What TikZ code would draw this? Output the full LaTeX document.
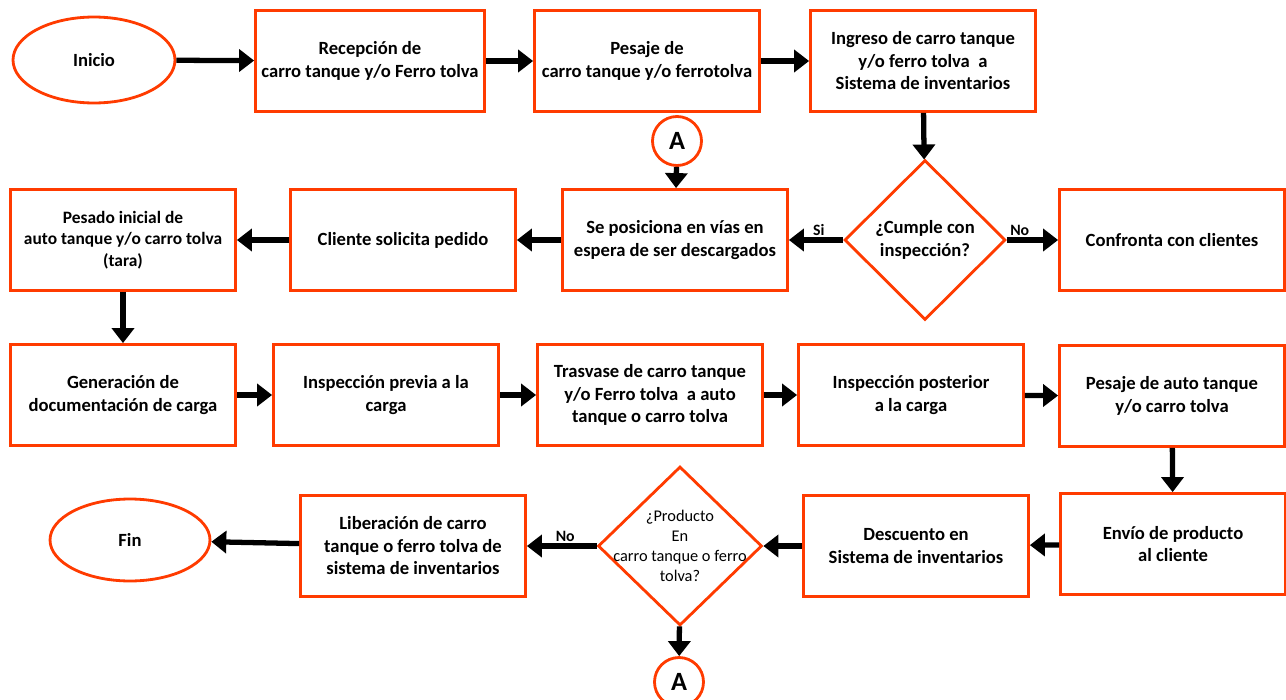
\documentclass[tikz,border=0pt]{standalone}
\usepackage{fontspec}
\setmainfont{Carlito}
\usetikzlibrary{positioning, arrows.meta, shapes.geometric}
\definecolor{naranja}{RGB}{255,59,0}
\tikzset{
    proc/.style={draw=naranja, line width=1.6pt, fill=white, minimum width=4.5cm, minimum height=2.02cm, align=center, font=\bfseries\fontsize{10.6}{12.8}\selectfont},
    term/.style={draw=naranja, line width=1.6pt, ellipse, minimum width=3.24cm, minimum height=1.72cm, font=\bfseries\fontsize{10.6}{12.8}\selectfont},
    decis/.style={draw=naranja, line width=1.6pt, diamond, minimum width=3.22cm, minimum height=3.2cm, inner sep=0pt},
    conect/.style={draw=naranja, line width=1.6pt, circle, minimum size=0.98cm, inner sep=0pt, font=\bfseries\fontsize{15}{17}\selectfont},
    flecha/.style={-{Triangle[length=3mm, width=4.4mm]}, line width=3pt},
    etiq/.style={font=\bfseries\fontsize{9}{11}\selectfont, inner sep=1pt},
}
\begin{document}
\begin{tikzpicture}[x=0.02cm, y=-0.02cm]
        \useasboundingbox (0,0) rectangle (1286,700);
        % Fila 1
        \node[term] (ini) at (94,60)  {Inicio};
        \node[proc] (rec) at (370,61) {Recepción de\\ carro tanque y/o Ferro tolva};
        \node[proc] (pes) at (647,61) {Pesaje de\\ carro tanque y/o ferrotolva};
        \node[proc] (ing) at (923,61) {Ingreso de carro tanque\\ y/o ferro tolva\ \ a\\ Sistema de inventarios};
        \node[conect] (A1) at (677,141) {A};
        % Fila 2
        \node[decis, label={[align=center, font=\bfseries\fontsize{10.6}{12.8}\selectfont]center:{¿Cumple con\\ inspección?}}] (cum) at (925,240) {};
        \node[proc] (con) at (1172,240) {Confronta con clientes};
        \node[proc] (pos) at (675,240) {Se posiciona en vías en\\ espera de ser descargados};
        \node[proc] (cli) at (403,240) {Cliente solicita pedido};
        \node[proc, font=\bfseries\fontsize{9.9}{12.2}\selectfont] (tar) at (123,240) {Pesado inicial de\\ auto tanque y/o carro tolva\\ (tara)};
        % Fila 3
        \node[proc] (gen) at (123,395)  {Generación de\\ documentación de carga};
        \node[proc] (ipr) at (386,395)  {Inspección previa a la\\ carga};
        \node[proc] (tra) at (650,395)  {Trasvase de carro tanque\\ y/o Ferro tolva\ \ a auto\\ tanque o carro tolva};
        \node[proc] (ipo) at (911,395)  {Inspección posterior\\ a la carga};
        \node[proc] (pau) at (1172,396) {Pesaje de auto tanque\\ y/o carro tolva};
        % Fila 4
        \node[proc] (env) at (1173,544) {Envío de producto\\ al cliente};
        \node[proc] (des) at (916,546)  {Descuento en\\ Sistema de inventarios};
        \node[decis, minimum width=3.28cm, minimum height=3.18cm, label={[align=center, font=\fontsize{9.3}{11.4}\selectfont]center:{¿Producto\\ En\\ carro tanque o ferro\\ tolva?}}] (prd) at (680,546) {};
        \node[proc] (lib) at (413,546)  {Liberación de carro\\ tanque o ferro tolva de\\ sistema de inventarios};
        \node[term, minimum width=3.2cm, minimum height=1.64cm] (fin) at (130,540) {Fin};
        \node[conect] (A2) at (679,682) {A};
        % Conexiones
        \draw[flecha] (ini) -- (rec);
        \draw[flecha] (rec) -- (pes);
        \draw[flecha] (pes) -- (ing);
        \draw[flecha] (ing) -- (cum);
        \draw[flecha] (cum) -- (pos) node[etiq, pos=0.45, above] {Si};
        \draw[flecha] (cum) -- (con) node[etiq, pos=0.25, above] {No};
        \draw[flecha] (A1)  -- (pos);
        \draw[flecha] (pos) -- (cli);
        \draw[flecha] (cli) -- (tar);
        \draw[flecha] (tar) -- (gen);
        \draw[flecha] (gen) -- (ipr);
        \draw[flecha] (ipr) -- (tra);
        \draw[flecha] (tra) -- (ipo);
        \draw[flecha] (ipo) -- (pau);
        \draw[flecha] (pau) -- (env);
        \draw[flecha] (env) -- (des);
        \draw[flecha] (des) -- (prd);
        \draw[flecha] (prd) -- (lib) node[etiq, pos=0.45, above] {No};
        \draw[flecha] (prd) -- (A2);
        \draw[flecha] (lib) -- (fin);
    \end{tikzpicture}
\end{document}
